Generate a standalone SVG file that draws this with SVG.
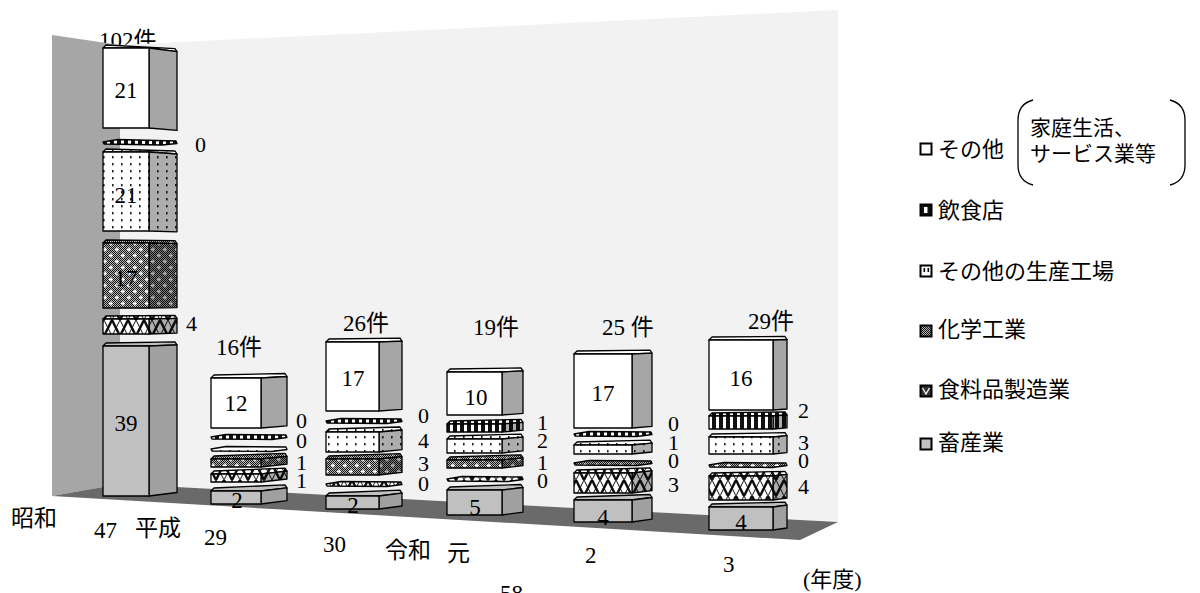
<svg xmlns="http://www.w3.org/2000/svg" width="1200" height="593" viewBox="0 0 1200 593">
<defs>
<pattern id="pChk" width="2" height="2" patternUnits="userSpaceOnUse"><rect width="2" height="2" fill="#b8b8b8"/><rect width="1" height="1" fill="#111"/><rect x="1" y="1" width="1" height="1" fill="#111"/></pattern>
<pattern id="pChem" width="12" height="12" patternUnits="userSpaceOnUse"><rect width="12" height="12" fill="url(#pChk)"/><path d="M3 1.5v4M1 3.5h4M9 7.5v4M7 9.5h4" stroke="#fff" stroke-width="1.3"/></pattern>
<pattern id="pIns" width="7" height="40" patternUnits="userSpaceOnUse"><rect width="7" height="40" fill="#111"/><rect x="2" width="3" height="40" fill="#fff"/></pattern>
<pattern id="pDot" width="9" height="7" patternUnits="userSpaceOnUse"><rect width="9" height="7" fill="#fff"/><rect x="4" y="2" width="1.6" height="2.4" fill="#222"/></pattern>
<pattern id="pFood" width="16" height="16" patternUnits="userSpaceOnUse"><rect width="16" height="16" fill="#fff"/><path d="M0 0L8 16L16 0" fill="none" stroke="#111" stroke-width="2.5"/><path d="M0 16L8 0L16 16" fill="none" stroke="#111" stroke-width="1"/></pattern>
</defs>
<style>
.e{stroke:#000;stroke-width:1.3;stroke-linejoin:round}
.w{fill:#fff}
.ws{fill:#a6a6a6}
.l{fill:#c0c0c0}
.ls{fill:#a0a0a0}
.ins{fill:url(#pIns)}
.dot{fill:url(#pDot)}
.chem{fill:url(#pChem)}
.food{fill:url(#pFood)}
.sh{fill:#000;fill-opacity:.32}
.n{font-family:"Liberation Serif","Noto Sans CJK JP",serif;font-size:23px;fill:#000}
.m{text-anchor:middle}
.s{font-family:"Liberation Serif","Noto Sans CJK JP",serif;font-size:22px;fill:#000}
.lg{font-family:"Liberation Serif","Noto Sans CJK JP",serif;font-size:22px;fill:#000}
.lg2{font-family:"Liberation Serif","Noto Sans CJK JP",serif;font-size:21px;fill:#000}
.ic{stroke:#000;stroke-width:2}
</style>

<text class="n" x="99" y="48">102件</text>

<g id="walls">
<polygon points="52,35 120,45 120,484 52,496" fill="#a6a6a6"/>
<polygon points="120,45 838,10 838,522 120,484" fill="#f2f2f2"/>
<polygon points="52,496 120,484 838,522 800,540" fill="#6a6a6a"/>
</g>

<g id="bar-s47">
<polygon class="e w" points="103,48 106,45 175,48.7 177,51.7 149,48"/>
<polygon class="e ws" points="149,48 177,51.7 177,130.4 149,128"/>
<rect class="e w" x="103" y="48" width="46" height="80"/>
<polygon class="e ins" points="103,142 118,139.5 176,141 177,143.5 162,145 104,144"/>
<polygon class="e dot" points="103,152 106,149 175,151 177,154 149,152"/>
<polygon class="e dot" points="149,152 177,154 177,231.8 149,231"/>
<polygon class="sh" points="149,152 177,154 177,231.8 149,231"/>
<rect class="e dot" x="103" y="152" width="46" height="79"/>
<polygon class="e chem" points="103,243 106,240 175,240.6 177,243.6 149,243"/>
<polygon class="e chem" points="149,243 177,243.6 177,307.6 149,308"/>
<polygon class="sh" points="149,243 177,243.6 177,307.6 149,308"/>
<rect class="e chem" x="103" y="243" width="46" height="65"/>
<polygon class="e food" points="103,319 106,316 175,315.4 177,318.4 149,319"/>
<polygon class="e food" points="149,319 177,318.4 177,333.1 149,334"/>
<polygon class="sh" points="149,319 177,318.4 177,333.1 149,334"/>
<rect class="e food" x="103" y="319" width="46" height="15"/>
<polygon class="e l" points="103,346 106,343 175,341.9 177,344.9 149,346"/>
<polygon class="e ls" points="149,346 177,344.9 177,492.5 149,496"/>
<rect class="e l" x="103" y="346" width="46" height="150"/>
<text class="n m" x="126" y="98">21</text>
<text class="s" x="195" y="152">0</text>
<text class="n m" x="126" y="203">21</text>
<text class="n m" x="126" y="286">17</text>
<text class="s" x="186" y="331">4</text>
<text class="n m" x="126" y="431">39</text>
</g>

<g id="bar-h29">
<text class="n" x="216" y="355">16件</text>
<polygon class="e w" points="211,378 214,375 285,373.5 287,376.5 261,378"/>
<polygon class="e ws" points="261,378 287,376.5 287,425.8 261,428"/>
<rect class="e w" x="211" y="378" width="50" height="50"/>
<polygon class="e ins" points="211,437 226,434.5 286,435 287,437.5 272,439.5 212,439"/>
<polygon class="e dot" points="211,449 226,446.5 286,447 287,449.5 272,451.5 212,451"/>
<polygon class="e chem" points="211,459 214,456 285,453.3 287,456.3 261,459"/>
<polygon class="e chem" points="261,459 287,456.3 287,464.2 261,467"/>
<polygon class="sh" points="261,459 287,456.3 287,464.2 261,467"/>
<rect class="e chem" x="211" y="459" width="50" height="8"/>
<polygon class="e food" points="211,474 214,471 285,468.1 287,471.1 261,474"/>
<polygon class="e food" points="261,474 287,471.1 287,479 261,482"/>
<polygon class="sh" points="261,474 287,471.1 287,479 261,482"/>
<rect class="e food" x="211" y="474" width="50" height="8"/>
<polygon class="e l" points="211,491 214,488 285,484.9 287,487.9 261,491"/>
<polygon class="e ls" points="261,491 287,487.9 287,500.7 261,504"/>
<rect class="e l" x="211" y="491" width="50" height="13"/>
<text class="n m" x="236" y="411">12</text>
<text class="n m" x="237" y="508">2</text>
<text class="s" x="296" y="428">0</text>
<text class="s" x="296" y="448">0</text>
<text class="s" x="296" y="470">1</text>
<text class="s" x="296" y="488">1</text>
</g>

<g id="bar-h30">
<text class="n" x="343" y="331">26件</text>
<polygon class="e w" points="326,342 329,339 400,338.2 402,341.2 379,342"/>
<polygon class="e ws" points="379,342 402,341.2 402,409.3 379,411"/>
<rect class="e w" x="326" y="342" width="53" height="69"/>
<polygon class="e ins" points="326,421 341,418.5 401,419 402,421.5 387,423.5 327,423"/>
<polygon class="e dot" points="326,432 329,429 400,427 402,430 379,432"/>
<polygon class="e dot" points="379,432 402,430 402,449.7 379,452"/>
<polygon class="sh" points="379,432 402,430 402,449.7 379,452"/>
<rect class="e dot" x="326" y="432" width="53" height="20"/>
<polygon class="e chem" points="326,459 329,456 400,453.6 402,456.6 379,459"/>
<polygon class="e chem" points="379,459 402,456.6 402,472.4 379,475"/>
<polygon class="sh" points="379,459 402,456.6 402,472.4 379,475"/>
<rect class="e chem" x="326" y="459" width="53" height="16"/>
<polygon class="e food" points="326,484 341,481.5 401,482 402,484.5 387,486.5 327,486"/>
<polygon class="e l" points="326,496 329,493 400,490.2 402,493.2 379,496"/>
<polygon class="e ls" points="379,496 402,493.2 402,506 379,509"/>
<rect class="e l" x="326" y="496" width="53" height="13"/>
<text class="n m" x="353" y="386">17</text>
<text class="n m" x="353" y="513">2</text>
<text class="s" x="418" y="423">0</text>
<text class="s" x="418" y="448">4</text>
<text class="s" x="418" y="471">3</text>
<text class="s" x="418" y="491">0</text>
</g>

<g id="bar-r1">
<text class="n" x="473" y="335">19件</text>
<polygon class="e w" points="447,372 450,369 521,367.9 523,370.9 502,372"/>
<polygon class="e ws" points="502,372 523,370.9 523,413.4 502,415"/>
<rect class="e w" x="447" y="372" width="55" height="43"/>
<polygon class="e ins" points="447,424 450,421 521,419.3 523,422.3 502,424"/>
<polygon class="e ins" points="502,424 523,422.3 523,430.2 502,432"/>
<polygon class="sh" points="502,424 523,422.3 523,430.2 502,432"/>
<rect class="e ins" x="447" y="424" width="55" height="8"/>
<polygon class="e dot" points="447,439 450,436 521,434.1 523,437.1 502,439"/>
<polygon class="e dot" points="502,439 523,437.1 523,450.9 502,453"/>
<polygon class="sh" points="502,439 523,437.1 523,450.9 502,453"/>
<rect class="e dot" x="447" y="439" width="55" height="14"/>
<polygon class="e chem" points="447,460 450,457 521,454.8 523,457.8 502,460"/>
<polygon class="e chem" points="502,460 523,457.8 523,465.7 502,468"/>
<polygon class="sh" points="502,460 523,457.8 523,465.7 502,468"/>
<rect class="e chem" x="447" y="460" width="55" height="8"/>
<polygon class="e food" points="447,479 462,476.5 522,477 523,479.5 508,481.5 448,481"/>
<polygon class="e l" points="447,490 450,487 521,484.5 523,487.5 502,490"/>
<polygon class="e ls" points="502,490 523,487.5 523,512.2 502,515"/>
<rect class="e l" x="447" y="490" width="55" height="25"/>
<text class="n m" x="476" y="405">10</text>
<text class="n m" x="475" y="515">5</text>
<text class="s" x="537" y="430">1</text>
<text class="s" x="537" y="448">2</text>
<text class="s" x="537" y="470">1</text>
<text class="s" x="537" y="488">0</text>
</g>

<g id="bar-r2">
<text class="n" x="602" y="335">25 件</text>
<polygon class="e w" points="574,354 577,351 650,350.2 652,353.2 632,354"/>
<polygon class="e ws" points="632,354 652,353.2 652,426.3 632,428"/>
<rect class="e w" x="574" y="354" width="58" height="74"/>
<polygon class="e ins" points="574,434 589,431.5 651,432 652,434.5 637,436.5 575,436"/>
<polygon class="e dot" points="574,445 577,442 650,440.1 652,443.1 632,445"/>
<polygon class="e dot" points="632,445 652,443.1 652,452 632,454"/>
<polygon class="sh" points="632,445 652,443.1 652,452 632,454"/>
<rect class="e dot" x="574" y="445" width="58" height="9"/>
<polygon class="e chem" points="574,463 589,460.5 651,461 652,463.5 637,465.5 575,465"/>
<polygon class="e food" points="574,473 577,470 650,467.8 652,470.8 632,473"/>
<polygon class="e food" points="632,473 652,470.8 652,490.6 632,493"/>
<polygon class="sh" points="632,473 652,470.8 652,490.6 632,493"/>
<rect class="e food" x="574" y="473" width="58" height="20"/>
<polygon class="e l" points="574,500 577,497 650,494.5 652,497.5 632,500"/>
<polygon class="e ls" points="632,500 652,497.5 652,519.2 632,522"/>
<rect class="e l" x="574" y="500" width="58" height="22"/>
<text class="n m" x="603" y="401">17</text>
<text class="n m" x="603" y="525">4</text>
<text class="s" x="668" y="431">0</text>
<text class="s" x="668" y="450">1</text>
<text class="s" x="668" y="468">0</text>
<text class="s" x="668" y="492">3</text>
</g>

<g id="bar-r3">
<text class="n" x="748" y="329">29件</text>
<polygon class="e w" points="709,340 712,337 785,336.5 787,339.5 773,340"/>
<polygon class="e ws" points="773,340 787,339.5 787,409 773,410"/>
<rect class="e w" x="709" y="340" width="64" height="70"/>
<polygon class="e ins" points="709,416 712,413 785,411.9 787,414.9 773,416"/>
<polygon class="e ins" points="773,416 787,414.9 787,427.8 773,429"/>
<polygon class="sh" points="773,416 787,414.9 787,427.8 773,429"/>
<rect class="e ins" x="709" y="416" width="64" height="13"/>
<polygon class="e dot" points="709,437 712,434 785,432.7 787,435.7 773,437"/>
<polygon class="e dot" points="773,437 787,435.7 787,452.6 773,454"/>
<polygon class="sh" points="773,437 787,435.7 787,452.6 773,454"/>
<rect class="e dot" x="709" y="437" width="64" height="17"/>
<polygon class="e chem" points="709,465 724,462.5 786,463 787,465.5 772,467.5 710,467"/>
<polygon class="e food" points="709,476 712,473 785,471.4 787,474.4 773,476"/>
<polygon class="e food" points="773,476 787,474.4 787,498.2 773,500"/>
<polygon class="sh" points="773,476 787,474.4 787,498.2 773,500"/>
<rect class="e food" x="709" y="476" width="64" height="24"/>
<polygon class="e l" points="709,507 712,504 785,502.2 787,505.2 773,507"/>
<polygon class="e ls" points="773,507 787,505.2 787,528 773,530"/>
<rect class="e l" x="709" y="507" width="64" height="23"/>
<text class="n m" x="741" y="386">16</text>
<text class="n m" x="741" y="530">4</text>
<text class="s" x="798" y="418">2</text>
<text class="s" x="798" y="450">3</text>
<text class="s" x="798" y="468">0</text>
<text class="s" x="798" y="494">4</text>
</g>

<g id="axis-labels">
<text class="n" x="11" y="526">昭和</text>
<text class="n" x="94" y="538">47</text>
<text class="n" x="135" y="536">平成</text>
<text class="n" x="204" y="545">29</text>
<text class="n" x="323" y="552">30</text>
<text class="n" x="385" y="558">令和</text>
<text class="n" x="447" y="561">元</text>
<text class="n" x="585" y="563">2</text>
<text class="n" x="723" y="572">3</text>
<text class="s" x="803" y="587">(年度)</text>
<text class="n" x="500" y="601">58</text>
</g>

<g id="legend">
<g id="lg-other">
<rect class="ic" x="920.5" y="143.5" width="11" height="11" fill="#fff"/>
<text class="lg" x="938" y="157">その他</text>
<path d="M1033,100 Q1018,104 1018,120 L1018,165 Q1018,181 1033,185" fill="none" stroke="#000" stroke-width="1.3"/>
<path d="M1170,100 Q1185,104 1185,120 L1185,165 Q1185,181 1170,185" fill="none" stroke="#000" stroke-width="1.3"/>
<text class="lg2" x="1030" y="135">家庭生活、</text>
<text class="lg2" x="1030" y="161">サービス業等</text>
</g>
<g id="lg-ins">
<rect class="ic" x="920.5" y="204.5" width="11" height="11" fill="#111"/>
<rect x="924" y="207" width="3.5" height="6" fill="#fff"/>
<text class="lg" x="938" y="218">飲食店</text>
</g>
<g id="lg-prod">
<rect class="ic" x="920.5" y="265.5" width="11" height="11" fill="#fff"/>
<rect x="923.5" y="268" width="1.6" height="4" fill="#000"/>
<rect x="927.5" y="268" width="1.6" height="4" fill="#000"/>
<text class="lg" x="938" y="279">その他の生産工場</text>
</g>
<g id="lg-chem">
<rect class="ic" x="920.5" y="325.5" width="11" height="11" fill="url(#pChk)"/>
<text class="lg" x="938" y="337">化学工業</text>
</g>
<g id="lg-food">
<rect class="ic" x="920.5" y="385.5" width="11" height="11" fill="#333"/>
<path d="M922.5,388 L926,394 L929.5,388" fill="none" stroke="#fff" stroke-width="1.3"/>
<text class="lg" x="938" y="397">食料品製造業</text>
</g>
<g id="lg-live">
<rect class="ic" x="920.5" y="438.5" width="11" height="11" fill="#c0c0c0"/>
<text class="lg" x="938" y="450">畜産業</text>
</g>
</g>
</svg>
